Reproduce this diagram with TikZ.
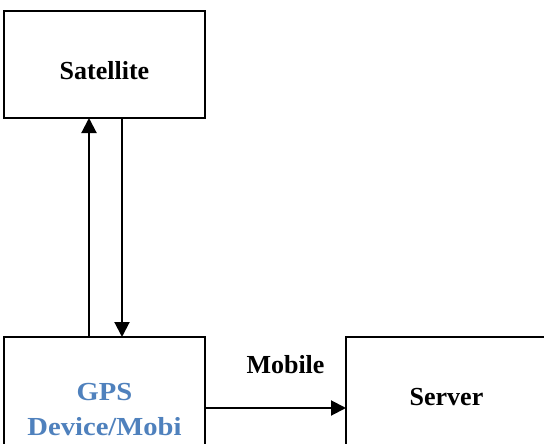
\documentclass[tikz,border=0pt]{standalone}
\usepackage{fontspec}
\setmainfont{Liberation Serif}
\newfontfamily\gpsfont[FakeStretch=1.1]{Liberation Serif}
\usetikzlibrary{arrows.meta}
\definecolor{gpsblue}{HTML}{4F81BD}
\tikzset{
  box/.style={draw, line width=2pt, inner sep=0pt, outer sep=0pt},
  arr/.style={line width=2pt, -{Triangle[length=15pt,width=15pt]}},
  lbl/.style={font=\fontsize{26}{30}\selectfont\bfseries, anchor=base, inner sep=0pt},
  gpslbl/.style={font=\gpsfont\fontsize{26}{30}\selectfont\bfseries, text=gpsblue, anchor=base, inner sep=0pt}
}
\begin{document}
\begin{tikzpicture}[x=1pt,y=-1pt]
\useasboundingbox (0,0) rectangle (544,444);
\clip (0,0) rectangle (544,444);
\fill[white] (0,0) rectangle (544,444);
\node[box, minimum width=201pt, minimum height=107pt] (sat) at (104.5,64.5) {};
\node[box, minimum width=201pt, minimum height=113pt] (gps) at (104.5,393.5) {};
\node[box, minimum width=201pt, minimum height=113pt] (srv) at (446.5,393.5) {};
\node[lbl] (tsat) at (104.5,80) {Satellite};
\node[lbl] (tsrv) at (446.5,405) {Server};
\node[lbl] (tmob) at (285.5,373) {Mobile};
\node[gpslbl] (tgps1) at (104.5,400) {GPS};
\node[gpslbl] (tgps2) at (104.5,435) {Device/Mobi};
\coordinate (hy) at (0,408);
\draw[arr] ([xshift=-15.5pt]gps.north) -- ([xshift=-15.5pt]sat.south);
\draw[arr] ([xshift=17.5pt]sat.south) -- ([xshift=17.5pt]gps.north);
\draw[arr] (gps.east |- hy) -- (srv.west |- hy);
\end{tikzpicture}
\end{document}
